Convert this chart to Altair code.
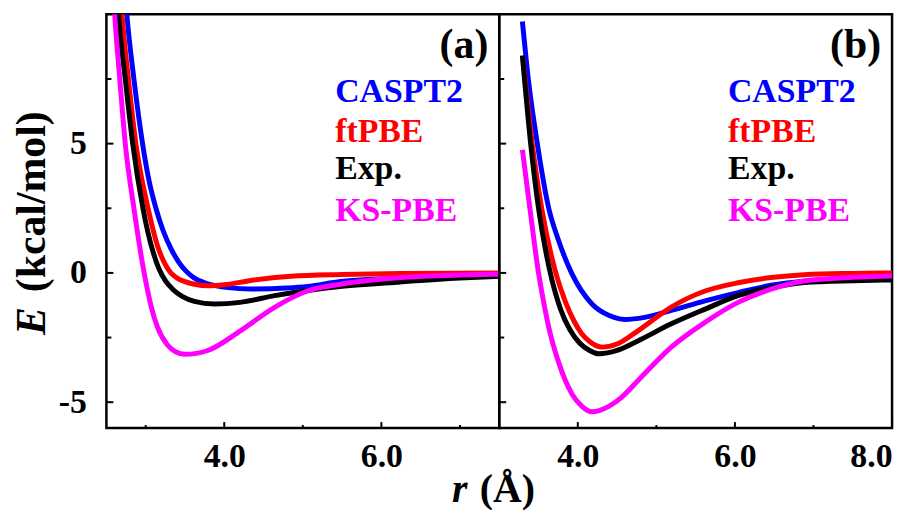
import altair as alt
import pandas as pd

# ---------------- data ----------------
SERIES = ["CASPT2", "ftPBE", "Exp.", "KS-PBE"]
COLORS = ["#0000ff", "#ff0000", "#000000", "#ff00ff"]

# panel (a)
a_caspt2_r = [2.70, 2.76, 2.85, 2.96, 3.04, 3.13, 3.22, 3.32, 3.42, 3.52, 3.62, 3.75, 3.90, 4.05, 4.34, 4.80, 5.06, 5.48, 6.24, 7.00, 7.50]
a_caspt2_E = [12.5, 10.0, 7.5, 5.0, 3.6, 2.5, 1.65, 0.95, 0.42, 0.05, -0.20, -0.38, -0.50, -0.57, -0.62, -0.58, -0.52, -0.33, -0.20, -0.13, -0.10]
a_ftpbe_r = [2.66, 2.70, 2.78, 2.875, 3.03, 3.15, 3.24, 3.32, 3.40, 3.50, 3.62, 3.80, 4.00, 4.30, 4.85, 5.50, 6.24, 7.50]
a_ftpbe_E = [12.0, 10.0, 7.5, 5.0, 2.5, 1.05, 0.38, 0.0, -0.20, -0.34, -0.44, -0.50, -0.46, -0.31, -0.13, -0.06, -0.02, 0.0]
a_exp_r = [2.62, 2.656, 2.74, 2.835, 2.965, 3.03, 3.10, 3.17, 3.25, 3.35, 3.47, 3.62, 3.875, 4.20, 4.64, 5.06, 5.50, 6.24, 7.00, 7.50]
a_exp_E = [12.0, 10.0, 7.5, 5.0, 2.5, 1.55, 0.75, 0.15, -0.30, -0.65, -0.92, -1.10, -1.20, -1.14, -0.88, -0.68, -0.52, -0.35, -0.20, -0.13]
a_kspbe_r = [2.57, 2.606, 2.67, 2.74, 2.85, 2.98, 3.07, 3.15, 3.28, 3.38, 3.50, 3.79, 4.21, 4.64, 5.06, 5.48, 6.24, 7.00, 7.50]
a_kspbe_E = [12.0, 10.0, 7.5, 5.0, 2.5, 0.0, -1.30, -2.10, -2.80, -3.05, -3.15, -3.00, -2.23, -1.33, -0.70, -0.44, -0.18, -0.08, -0.05]

# panel (b)
b_caspt2_r = [3.295, 3.37, 3.485, 3.63, 3.75, 3.92, 4.18, 4.40, 4.60, 4.85, 5.19, 5.62, 6.04, 6.46, 6.88, 7.50, 8.00]
b_caspt2_E = [9.72, 7.5, 5.0, 2.5, 1.3, 0.0, -1.20, -1.65, -1.80, -1.72, -1.45, -1.08, -0.76, -0.48, -0.32, -0.24, -0.20]
b_ftpbe_r = [3.30, 3.42, 3.54, 3.72, 3.84, 3.95, 4.05, 4.15, 4.31, 4.50, 4.77, 5.19, 5.62, 6.04, 6.46, 6.88, 7.50, 8.00]
b_ftpbe_E = [8.3, 5.0, 2.5, 0.0, -1.10, -1.85, -2.35, -2.65, -2.87, -2.75, -2.23, -1.32, -0.70, -0.38, -0.18, -0.07, -0.02, 0.0]
b_exp_r = [3.295, 3.40, 3.50, 3.65, 3.78, 3.90, 4.02, 4.15, 4.27, 4.50, 4.77, 5.19, 5.62, 6.04, 6.46, 6.88, 7.50, 8.00]
b_exp_E = [8.41, 5.0, 2.5, 0.0, -1.40, -2.20, -2.70, -3.00, -3.13, -3.00, -2.62, -1.97, -1.40, -0.88, -0.57, -0.37, -0.30, -0.27]
b_kspbe_r = [3.295, 3.39, 3.50, 3.57, 3.63, 3.76, 3.93, 4.05, 4.18, 4.40, 4.56, 4.77, 5.19, 5.62, 6.04, 6.46, 6.88, 7.50, 8.00]
b_kspbe_E = [4.76, 2.5, 0.0, -1.20, -2.10, -3.50, -4.70, -5.15, -5.37, -5.15, -4.80, -4.15, -2.87, -1.91, -1.14, -0.63, -0.31, -0.17, -0.12]

Y_DOMAIN = [-6, 10]
Y_MAJOR = [-5, 0, 5]
Y_MINOR = [-2.5, 2.5, 7.5]
A_X_DOMAIN = [2.5, 7.5]
A_X_MAJOR = [4, 6]
A_X_MINOR = [3, 5, 7]
B_X_DOMAIN = [3, 8]
B_X_MAJOR = [4, 6, 8]
B_X_MINOR = [5, 7]

# ---------------- styling ----------------
W, H = 395, 416
FONT = "Liberation Serif"


def panel(curves, xdom, xmaj, xmin, tag, xaxis, yaxis):
    xs = alt.Scale(domain=xdom, nice=False, zero=False)
    ys = alt.Scale(domain=Y_DOMAIN, nice=False, zero=False)
    X = lambda f: alt.X(f, scale=xs, axis=xaxis)
    Y = lambda f: alt.Y(f, scale=ys, axis=yaxis)
    layers = []
    for name, color in zip(SERIES, COLORS):
        r, e = curves[name]
        df = pd.DataFrame({"r": r, "E": e})
        layers.append(
            alt.Chart(df).mark_line(color=color, strokeWidth=5, interpolate="monotone", clip=True)
            .encode(x=X("r:Q"), y=Y("E:Q"))
        )
    # inward tick marks
    for vals, ln in ((Y_MAJOR, 7), (Y_MINOR, 5)):
        layers.append(
            alt.Chart(pd.DataFrame({"E": vals})).mark_rule(color="black", strokeWidth=2)
            .encode(y=Y("E:Q"), x=alt.value(0), x2=alt.value(ln))
        )
    for vals, ln in ((xmaj, 6), (xmin, 3)):
        layers.append(
            alt.Chart(pd.DataFrame({"r": vals})).mark_rule(color="black", strokeWidth=2)
            .encode(x=X("r:Q"), y=alt.value(H), y2=alt.value(H - ln))
        )
    # text legend
    baselines = [88, 128, 166, 208]
    for name, color, yb in zip(SERIES, COLORS, baselines):
        layers.append(
            alt.Chart(pd.DataFrame({"label": [name]})).mark_text(
                align="left", baseline="alphabetic", font=FONT, fontSize=34,
                fontWeight="bold", color=color)
            .encode(x=alt.value(230), y=alt.value(yb), text="label:N")
        )
    layers.append(
        alt.Chart(pd.DataFrame({"label": [tag]})).mark_text(
            align="right", baseline="alphabetic", font=FONT, fontSize=42,
            fontWeight="bold", color="black")
        .encode(x=alt.value(384), y=alt.value(44), text="label:N")
    )
    return alt.layer(*layers).properties(width=W, height=H)


common_x = dict(format=".1f", ticks=False, tickSize=0, domain=False, grid=False,
                labelFont=FONT, labelFontSize=34, labelFontWeight="bold", labelColor="black",
                labelPadding=39, labelBaseline="alphabetic",
                titleFont=FONT, titleFontSize=40, titleFontWeight="bold", titleColor="black",
                titleAlign="left", titleBaseline="alphabetic", titleY=74)
common_y = dict(values=Y_MAJOR, ticks=False, tickSize=0, domain=False, grid=False,
                titleFont=FONT, titleFontSize=42, titleFontWeight="bold", titleColor="black",
                titleAngle=270, titleAlign="center", titleBaseline="alphabetic")

xa = alt.Axis(values=A_X_MAJOR, labelFlush=False, title="r", titleFontStyle="italic", titleX=347, **common_x)
xb = alt.Axis(values=B_X_MAJOR, labelFlush=True, title="(Å)", titleX=-20, **common_x)
ya = alt.Axis(labelExpr="'' + datum.value", labelFont=FONT, labelFontSize=34, labelFontWeight="bold",
              labelColor="black", labelPadding=20, labelBaseline="middle",
              title="(kcal/mol)", titleX=-62, titleY=188, **common_y)
yb = alt.Axis(labels=False, title="E", titleFontStyle="italic", titleX=-457, titleY=308, **common_y)

curves_a = {"CASPT2": (a_caspt2_r, a_caspt2_E), "ftPBE": (a_ftpbe_r, a_ftpbe_E),
            "Exp.": (a_exp_r, a_exp_E), "KS-PBE": (a_kspbe_r, a_kspbe_E)}
curves_b = {"CASPT2": (b_caspt2_r, b_caspt2_E), "ftPBE": (b_ftpbe_r, b_ftpbe_E),
            "Exp.": (b_exp_r, b_exp_E), "KS-PBE": (b_kspbe_r, b_kspbe_E)}

left = panel(curves_a, A_X_DOMAIN, A_X_MAJOR, A_X_MINOR, "(a)", xa, ya)
right = panel(curves_b, B_X_DOMAIN, B_X_MAJOR, B_X_MINOR, "(b)", xb, yb)

chart = (
    alt.hconcat(left, right, spacing=0, bounds="flush")
    .properties(padding={"left": 9, "top": 11, "right": 7, "bottom": 0}, background="white")
    .configure_view(stroke="black", strokeWidth=2.5)
)

chart.save("out.html", embed_options={"renderer": "svg", "actions": False})
